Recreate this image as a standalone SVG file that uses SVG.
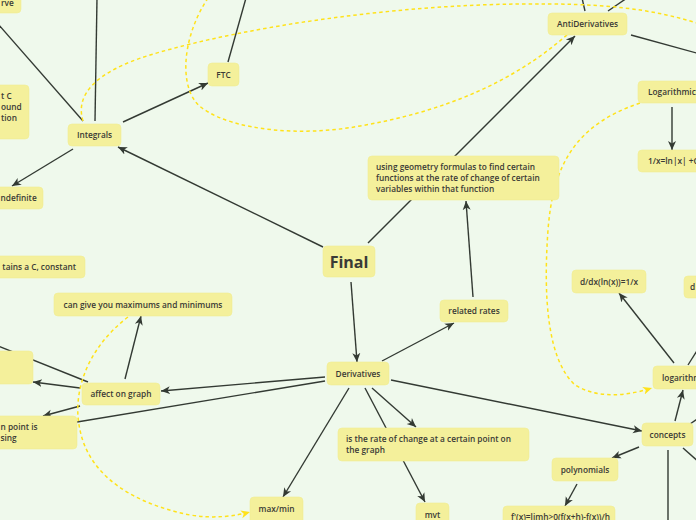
<svg xmlns="http://www.w3.org/2000/svg" width="696" height="520" viewBox="0 0 696 520">
<style>
.bg{fill:#eff9ec}
.n rect{fill:#f4f09b;stroke:#f0ec94;stroke-width:0.6}
.n text{font-family:"Open Sans","Noto Sans",sans-serif;font-weight:600;font-size:8.3px;fill:#3a3a36}
.c{text-anchor:middle}
.e{text-anchor:end}
.ln{stroke:#333a33;stroke-width:1.4;fill:none}
.ar{marker-end:url(#ah)}
.ds{stroke:#ffe21a;stroke-width:1.5;fill:none;stroke-dasharray:3.5 3}
.da{marker-end:url(#ay)}
</style>
<defs>
<marker id="ah" markerUnits="userSpaceOnUse" markerWidth="10" markerHeight="10" viewBox="0 0 10 10" refX="9" refY="5" orient="auto">
<path d="M0,1 L9,5 L0,9 L2.5,5 Z" fill="#333a33"/>
</marker>
<marker id="ay" markerUnits="userSpaceOnUse" markerWidth="10" markerHeight="10" viewBox="0 0 10 10" refX="9" refY="5" orient="auto">
<path d="M0,1 L9,5 L0,9 L2.5,5 Z" fill="#ffe21a"/>
</marker>
</defs>
<rect class="bg" x="0" y="0" width="696" height="520"/>
<g id="connectors">
<line class="ln ar" x1="323" y1="247" x2="118" y2="147"/>
<line class="ln ar" x1="368" y1="243" x2="575" y2="36"/>
<line class="ln ar" x1="351" y1="282" x2="357" y2="362"/>
<line class="ln ar" x1="473" y1="297" x2="466" y2="201"/>
<line class="ln ar" x1="382" y1="361" x2="454" y2="323"/>
<line class="ln ar" x1="391" y1="380" x2="642" y2="431"/>
<line class="ln ar" x1="372" y1="388" x2="416" y2="427"/>
<line class="ln ar" x1="365" y1="388" x2="425" y2="502"/>
<line class="ln ar" x1="349" y1="388" x2="283" y2="497"/>
<line class="ln ar" x1="325" y1="377" x2="161" y2="391"/>
<line class="ln" x1="325" y1="381" x2="77" y2="422"/>
<line class="ln ar" x1="80" y1="388" x2="33" y2="382"/>
<line class="ln" x1="-12" y1="342" x2="88" y2="382"/>
<line class="ln ar" x1="80" y1="406" x2="43" y2="416"/>
<line class="ln ar" x1="125" y1="379" x2="141" y2="316"/>
<line class="ln ar" x1="73" y1="149" x2="12" y2="186"/>
<line class="ln ar" x1="123" y1="122" x2="208" y2="83"/>
<line class="ln" x1="95" y1="121" x2="97" y2="-2"/>
<line class="ln" x1="83" y1="121" x2="-2" y2="24"/>
<line class="ln" x1="228" y1="62" x2="246" y2="-2"/>
<line class="ln" x1="585" y1="11" x2="582" y2="-2"/>
<line class="ln" x1="608" y1="11" x2="627" y2="-2"/>
<line class="ln" x1="631" y1="35" x2="700" y2="54"/>
<line class="ln ar" x1="672" y1="107" x2="672" y2="150"/>
<line class="ln ar" x1="674" y1="363" x2="619" y2="293"/>
<line class="ln" x1="688" y1="365" x2="710" y2="330"/>
<line class="ln ar" x1="675" y1="421" x2="683" y2="390"/>
<line class="ln" x1="690" y1="424" x2="700" y2="417"/>
<line class="ln ar" x1="639" y1="447" x2="612" y2="458"/>
<line class="ln" x1="668" y1="450" x2="668" y2="522"/>
<line class="ln" x1="683" y1="448" x2="700" y2="463"/>
<line class="ln ar" x1="577" y1="484" x2="565" y2="506"/>
<path class="ds" d="M83,121 C75,95 95,72 150,55 C250,25 400,5 520,4 C600,3 650,8 700,24"/>
<path class="ds" d="M208,-2 C180,40 178,95 205,110 C235,130 300,137 360,126 C440,112 510,85 568,34"/>
<path class="ds da" d="M640,103 C575,125 553,165 548,230 C543,300 548,360 575,385 C600,400 630,395 652,388"/>
<path class="ds da" d="M128,317 C85,350 72,395 80,430 C90,480 140,505 190,515 C215,519 235,516 250,512"/>
</g>
<g id="n_rve" class="n"><rect x="-40" y="-9" width="61" height="22" rx="4"/><text x="1" y="6">rve</text></g>
<g id="n_bound" class="n"><rect x="-60" y="85" width="89" height="54" rx="4"/><text x="1" y="99">t C</text><text x="1" y="110">ound</text><text x="1" y="121">tion</text></g>
<g id="n_integrals" class="n"><rect x="68" y="124" width="53" height="22" rx="4"/><text class="c" x="94.5" y="138">Integrals</text></g>
<g id="n_indefinite" class="n"><rect x="-30" y="187" width="73" height="22" rx="4"/><text x="0.5" y="201">ndefinite</text></g>
<g id="n_ftc" class="n"><rect x="208" y="63" width="31" height="23" rx="4"/><text class="c" x="223.5" y="78">FTC</text></g>
<g id="n_antiderivatives" class="n"><rect x="548" y="13" width="79" height="22" rx="4"/><text class="c" x="587.5" y="27">AntiDerivatives</text></g>
<g id="n_logarithmic" class="n"><rect x="638" y="81" width="70" height="22" rx="4"/><text x="648" y="95">Logarithmic</text></g>
<g id="n_lnx" class="n"><rect x="638" y="150" width="70" height="22" rx="4"/><text x="648" y="164">1/x=ln|x| +C</text></g>
<g id="n_geometry" class="n"><rect x="368" y="156" width="191" height="44" rx="4"/><text x="376" y="170">using geometry formulas to find certain</text><text x="376" y="181">functions at the rate of change of certain</text><text x="376" y="192">variables within that function</text></g>
<g id="n_final" class="n"><rect x="323" y="246" width="52" height="31" rx="4"/><text class="c" x="349" y="268" style="font-size:16px;font-weight:700">Final</text></g>
<g id="n_constant" class="n"><rect x="-40" y="256" width="125" height="22" rx="4"/><text class="e" x="76" y="270">tains a C, constant</text></g>
<g id="n_maxmin_give" class="n"><rect x="54" y="293" width="178" height="23" rx="4"/><text class="c" x="143" y="307.5">can give you maximums and minimums</text></g>
<g id="n_leftbox" class="n"><rect x="-40" y="351" width="73" height="33" rx="4"/></g>
<g id="n_affect" class="n"><rect x="82" y="383" width="78" height="22" rx="4"/><text class="c" x="121" y="397">affect on graph</text></g>
<g id="n_point" class="n"><rect x="-60" y="416" width="137" height="33" rx="4"/><text x="0.5" y="430">n point is</text><text x="0.5" y="441">sing</text></g>
<g id="n_derivatives" class="n"><rect x="327" y="362" width="62" height="23" rx="4"/><text class="c" x="358" y="377">Derivatives</text></g>
<g id="n_related" class="n"><rect x="440" y="300" width="68" height="22" rx="4"/><text class="c" x="474" y="314">related rates</text></g>
<g id="n_rate" class="n"><rect x="338" y="428" width="191" height="33" rx="4"/><text x="346" y="442">is the rate of change at a certain point on</text><text x="346" y="453">the graph</text></g>
<g id="n_maxmin" class="n"><rect x="250" y="497" width="53" height="30" rx="4"/><text class="c" x="276.5" y="512">max/min</text></g>
<g id="n_mvt" class="n"><rect x="416" y="503" width="33" height="30" rx="4"/><text class="c" x="432.5" y="518">mvt</text></g>
<g id="n_ddx" class="n"><rect x="572" y="270" width="74" height="23" rx="4"/><text class="c" x="609" y="284.5">d/dx(ln(x))=1/x</text></g>
<g id="n_d" class="n"><rect x="684" y="276" width="40" height="22" rx="4"/><text x="690" y="290">d</text></g>
<g id="n_logarithms" class="n"><rect x="653" y="366" width="60" height="23" rx="4"/><text x="662" y="380.5">logarithms</text></g>
<g id="n_concepts" class="n"><rect x="642" y="423" width="51" height="23" rx="4"/><text class="c" x="667.5" y="437.5">concepts</text></g>
<g id="n_polynomials" class="n"><rect x="552" y="458" width="66" height="23" rx="4"/><text class="c" x="585" y="472.5">polynomials</text></g>
<g id="n_limit" class="n"><rect x="503" y="506" width="112" height="30" rx="4"/><text x="511" y="520">f'(x)=limh&gt;0(f(x+h)-f(x))/h</text></g>
</svg>
